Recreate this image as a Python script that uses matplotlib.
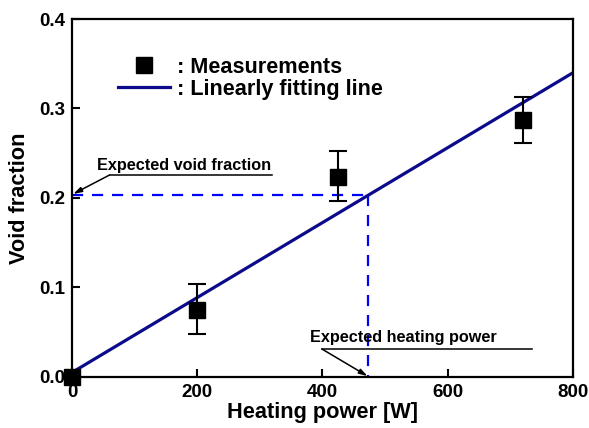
import matplotlib
matplotlib.use("Agg")
import matplotlib.pyplot as plt
from matplotlib.lines import Line2D

plt.rcParams['font.family'] = ['Liberation Sans', 'DejaVu Sans']
plt.rcParams['font.weight'] = 'bold'

# measured points
power = [0, 200, 425, 720]
void = [0.0, 0.075, 0.224, 0.287]
err_lo = [0.0, 0.027, 0.027, 0.025]
err_hi = [0.0, 0.029, 0.028, 0.026]

# linear fit
fit_x = [0, 800]
fit_y = [0.005, 0.340]

# expected operating point
exp_power = 472
exp_void = 0.203

fig = plt.figure(figsize=(5.89, 4.28), dpi=100)
ax = fig.add_axes([0.1222, 0.1192, 0.8506, 0.8364])

ax.plot(fit_x, fit_y, color='#0a0a8a', lw=2.3, zorder=2)
ax.errorbar(power, void, yerr=[err_lo, err_hi], fmt='s', color='black',
            ms=11, capsize=6.8, elinewidth=1.5, capthick=1.5,
            zorder=3, clip_on=False)

# dashed guide lines
ax.plot([0, exp_power], [exp_void, exp_void], color='#0000ff', lw=1.6,
        dashes=(5, 4), zorder=1)
ax.plot([exp_power, exp_power], [exp_void, 0], color='#0000ff', lw=1.6,
        dashes=(5, 4), zorder=1)

ax.set_xlim(0, 800)
ax.set_ylim(0, 0.4)
ax.set_xticks([0, 200, 400, 600, 800])
ax.set_yticks([0.0, 0.1, 0.2, 0.3, 0.4])
ax.set_yticklabels(['0.0', '0.1', '0.2', '0.3', '0.4'])
ax.tick_params(direction='in', length=6, width=1.5, labelsize=13.5, pad=5)
for s in ax.spines.values():
    s.set_linewidth(1.6)

ax.set_xlabel('Heating power [W]', fontsize=15.7, fontweight='bold', labelpad=1)
ax.set_ylabel('Void fraction', fontsize=15.7, fontweight='bold', labelpad=6.5)

# annotations
ax.text(40, 0.236, 'Expected void fraction', fontsize=11.7, fontweight='bold',
        va='center', ha='left')
ax.plot([60, 320], [0.2257, 0.2257], color='black', lw=1.1)
ax.annotate('', xy=(2, 0.2045), xytext=(60, 0.2257),
            arrowprops=dict(arrowstyle='-|>,head_length=0.5,head_width=0.15',
                            color='black', lw=1.1, shrinkA=0, shrinkB=0))

ax.text(380, 0.0436, 'Expected heating power', fontsize=11.7, fontweight='bold',
        va='center', ha='left')
ax.plot([399, 735], [0.0313, 0.0313], color='black', lw=1.1)
ax.annotate('', xy=(exp_power, 0.001), xytext=(399, 0.0313),
            arrowprops=dict(arrowstyle='-|>,head_length=0.5,head_width=0.15',
                            color='black', lw=1.1, shrinkA=0, shrinkB=0))

handles = [Line2D([], [], ls='none', marker='s', ms=11, color='black'),
           Line2D([], [], color='#0a0a8a', lw=2.3)]
ax.legend(handles, [': Measurements', ': Linearly fitting line'],
          loc='upper left', bbox_to_anchor=(0.092, 0.894), frameon=False,
          fontsize=15.6, handlelength=2.4, handletextpad=0.32, labelspacing=0.05,
          borderaxespad=0, borderpad=0)

fig.savefig('out.png', dpi=100)
